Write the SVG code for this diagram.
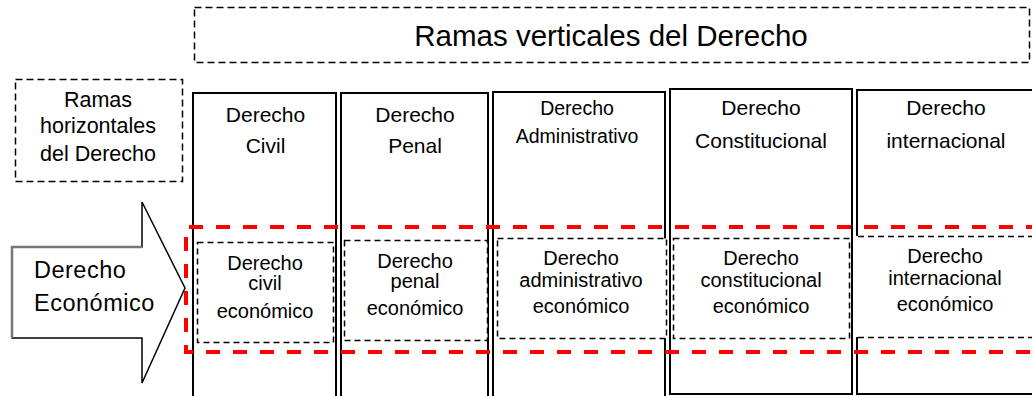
<svg xmlns="http://www.w3.org/2000/svg" width="1032" height="396" viewBox="0 0 1032 396">
<style>
text{font-family:"Liberation Sans",Arial,sans-serif;fill:#000;text-anchor:middle}
.col{fill:#fff;stroke:#000;stroke-width:2}
.dbox{fill:#fff;stroke:#000;stroke-width:1.5;stroke-dasharray:7 4}
.ibox{fill:#fff;stroke:#000;stroke-width:1.5;stroke-dasharray:6 4}
.h{font-size:21px}
.i{font-size:20px}
.red{fill:none;stroke:#ff0000;stroke-width:4;stroke-dasharray:14 13}
</style>
<rect width="1032" height="396" fill="#fff"/>
<g id="title">
<rect class="dbox" x="194.5" y="7.5" width="835" height="55"/>
<text x="611" y="46" style="font-size:29.5px">Ramas verticales del Derecho</text>
</g>
<g id="horizontal-label">
<rect class="dbox" x="15.5" y="79.5" width="167" height="102"/>
<text x="98" y="107" style="font-size:21.5px">Ramas</text>
<text x="98" y="133" style="font-size:21.5px">horizontales</text>
<text x="98" y="161" style="font-size:21.5px">del Derecho</text>
</g>
<g id="col-civil">
<rect class="col" x="193" y="93" width="143" height="320"/>
<text class="h" x="265.5" y="122">Derecho</text>
<text class="h" x="265.5" y="153">Civil</text>
</g>
<g id="col-penal">
<rect class="col" x="341" y="93" width="147" height="320"/>
<text class="h" x="415" y="122">Derecho</text>
<text class="h" x="415" y="153">Penal</text>
</g>
<g id="col-administrativo">
<rect class="col" x="493" y="92" width="172" height="320"/>
<text x="577" y="115" style="font-size:19.5px">Derecho</text>
<text x="577" y="143" style="font-size:19.5px">Administrativo</text>
</g>
<g id="col-constitucional">
<rect class="col" x="670" y="89" width="182" height="305"/>
<text class="h" x="761" y="115">Derecho</text>
<text class="h" x="761" y="148">Constitucional</text>
</g>
<g id="col-internacional">
<rect class="col" x="857" y="90" width="200" height="304"/>
<text class="h" x="946" y="115">Derecho</text>
<text class="h" x="946" y="148">internacional</text>
</g>
<g id="arrow-derecho-economico">
<polygon points="12,247 142,247 142,202 185,288 142,383 142,338 12,338" fill="#fff" stroke="#000" stroke-width="1.5" stroke-linejoin="miter"/>
<polyline points="12,338 12,247 142,247" fill="none" stroke="#777" stroke-width="2.5"/>
<text x="34" y="278" style="font-size:23.5px;text-anchor:start;letter-spacing:0.5px">Derecho</text>
<text x="34" y="311" style="font-size:23.5px;text-anchor:start;letter-spacing:0.5px">Económico</text>
</g>
<g id="civil-economico">
<rect class="ibox" x="197.5" y="242.5" width="136" height="100"/>
<text class="i" x="265" y="270">Derecho</text>
<text class="i" x="265" y="290">civil</text>
<text class="i" x="265" y="318">económico</text>
</g>
<g id="penal-economico">
<rect class="ibox" x="344.5" y="240.5" width="143" height="100"/>
<text class="i" x="415" y="268">Derecho</text>
<text class="i" x="415" y="288">penal</text>
<text class="i" x="415" y="315">económico</text>
</g>
<g id="administrativo-economico">
<rect class="ibox" x="497.5" y="238.5" width="169" height="100"/>
<text class="i" x="581" y="265">Derecho</text>
<text class="i" x="581" y="287">administrativo</text>
<text class="i" x="581" y="313">económico</text>
</g>
<g id="constitucional-economico">
<rect class="ibox" x="673.5" y="238.5" width="176" height="100"/>
<text class="i" x="761" y="265">Derecho</text>
<text class="i" x="761" y="287">constitucional</text>
<text class="i" x="761" y="313">económico</text>
</g>
<g id="internacional-economico">
<rect x="855" y="236" width="190" height="101" fill="#fff"/>
<path d="M858,236.5 H1040 M858,337.5 H1040" fill="none" stroke="#000" stroke-width="1.5" stroke-dasharray="6 4"/>
<text class="i" x="945" y="263">Derecho</text>
<text class="i" x="945" y="285">internacional</text>
<text class="i" x="945" y="311">económico</text>
</g>
<g id="connectors">
<path class="red" d="M1040,227 H186 V352 H1040"/>
</g>
</svg>
